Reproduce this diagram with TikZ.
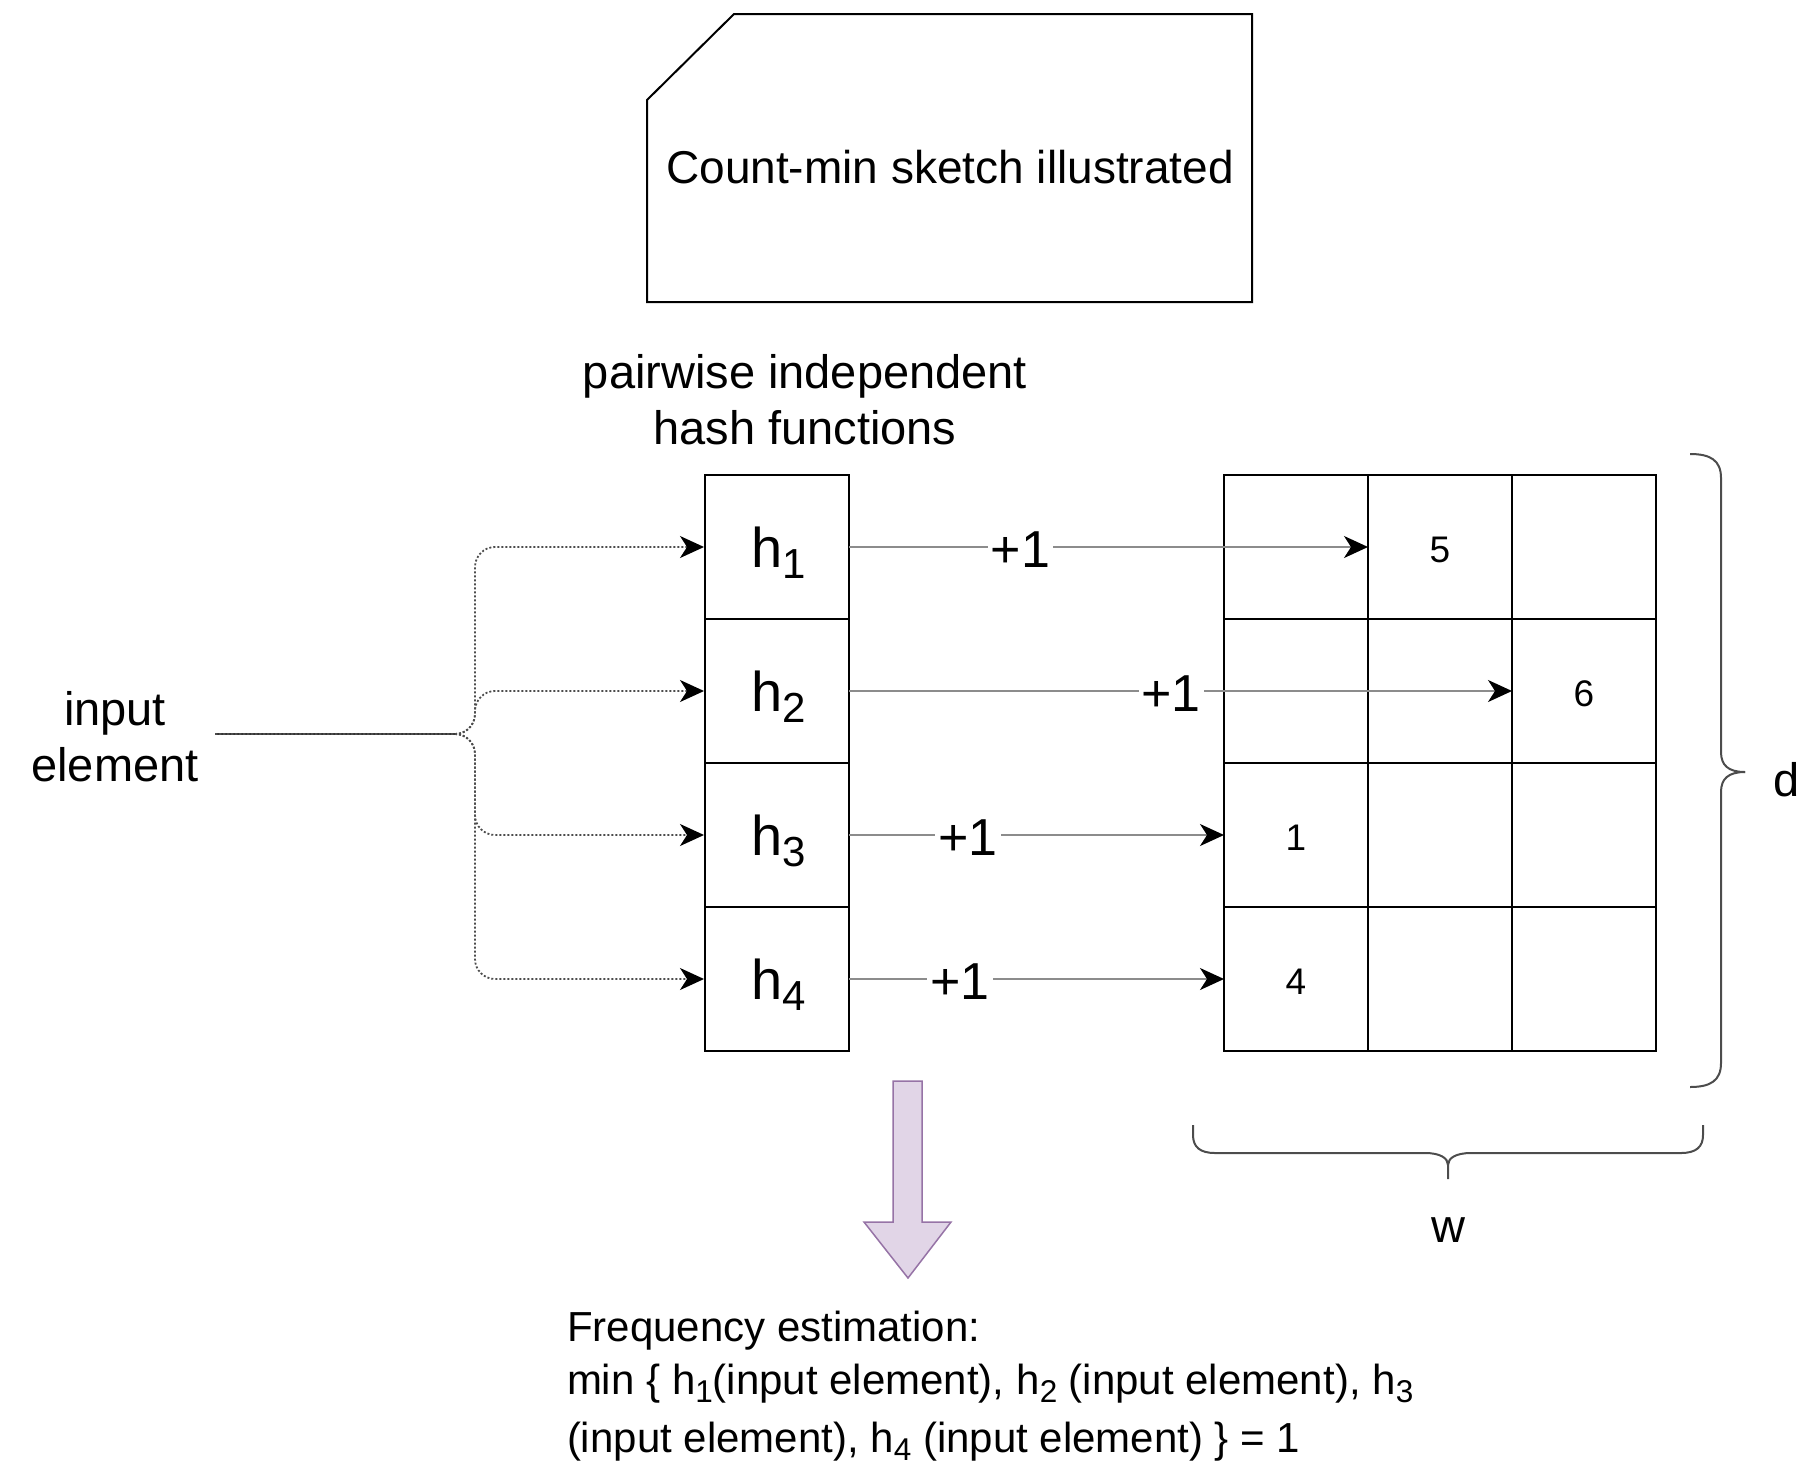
\documentclass[tikz,border=0pt]{standalone}
\usepackage{fontspec}
\setmainfont{Liberation Sans}
\usepackage{graphicx}
\usetikzlibrary{arrows.meta}

% lowered, smaller index for the hash function names
\newcommand{\hsub}[1]{\raisebox{-0.2em}{\scalebox{0.75}{#1}}}

\definecolor{lilac}{HTML}{E1D5E7}
\definecolor{lilacline}{HTML}{9673A6}

\tikzset{
  every node/.style={inner sep=0pt, outer sep=0pt},
  frame/.style={draw=black, line width=2pt},
  hbox/.style={frame, minimum width=144pt, minimum height=144pt,
    font=\fontsize{56}{60}\selectfont},
  cell/.style={frame, minimum width=144pt, minimum height=144pt},
  num/.style={font=\fontsize{37}{40}\selectfont},
  lbl/.style={font=\fontsize{47}{56}\selectfont, align=center},
  est/.style={font=\fontsize{42}{50}\selectfont, anchor=base west},
  tipend/.style={-{Stealth[length=24pt,width=22pt,inset=7pt,black]}},
  feed/.style={tipend, draw=black!70, line width=1.8pt,
    dash pattern=on 2pt off 2pt, rounded corners=20pt},
  inc/.style={tipend, draw=black!45, line width=2pt},
  plus/.style={fill=white, inner sep=3pt, font=\fontsize{52}{56}\selectfont, yshift=-3pt},
  brace/.style={draw=black!70, line width=2pt},
}

\begin{document}
\begin{tikzpicture}[x=1pt,y=-1pt]
\useasboundingbox (0,0) rectangle (1803,1467);

% title card with a clipped corner
\node[minimum width=605pt, minimum height=288pt] (title) at (949.5,158) {};
\draw[frame] ([yshift=-86pt]title.north west) -- ([xshift=87pt]title.north west)
  -- (title.north east) -- (title.south east) -- (title.south west) -- cycle;
\node[font=\fontsize{46}{54}\selectfont] (titletext) at (950,167) {Count-min sketch illustrated};

% hash functions
\node[lbl] (hashlbl) at (805,400) {pairwise independent\\hash functions};
\foreach \i/\y in {1/547,2/691,3/835,4/979}
  \node[hbox, text depth=0pt] (h\i) at (777,\y) {\hspace{3pt}h\hsub{\i}};

% counter table, d rows by w columns
\foreach \r/\y in {1/547,2/691,3/835,4/979}
  \foreach \c/\x in {1/1296,2/1440,3/1584}
    \node[cell] (c\r\c) at (\x,\y) {};
\node[num] (n5) at ([yshift=-3pt]c12.center) {5};
\node[num] (n6) at ([yshift=-3pt]c23.center) {6};
\node[num] (n1) at ([yshift=-3pt]c31.center) {1};
\node[num] (n4) at ([yshift=-3pt]c41.center) {4};

% input fan-out
\node[lbl, minimum width=200pt] (inp) at (115,737) {input\\element};
\coordinate (split) at (475,734);
\draw[line width=2pt, black!80] (inp.east |- split) -- ([xshift=-20pt]split);
\foreach \i in {1,...,4}
  \draw[feed] (inp.east |- split) -- (split) |- ([xshift=-1pt]h\i.west);

% increments
\draw[inc] (h1.east) -- node[plus, pos=0.33] (p1) {+1} (c12.west);
\draw[inc] (h2.east) -- node[plus, pos=0.486] (p2) {+1} (c23.west);
\draw[inc] (h3.east) -- node[plus, pos=0.317] (p3) {+1} (c31.west);
\draw[inc] (h4.east) -- node[plus, pos=0.296] (p4) {+1} (c41.west);

% depth brace
\draw[brace] (1690,454) .. controls (1710,454) and (1721,460) .. (1721,478)
  -- (1721,752) .. controls (1721,765) and (1728,772) .. (1745,772);
\draw[brace] (1745,772) .. controls (1728,772) and (1721,779) .. (1721,792)
  -- (1721,1063) .. controls (1721,1081) and (1710,1087) .. (1690,1087);
\node[lbl] (dlbl) at (1787,780) {d};

% width brace
\draw[brace] (1193,1125) -- (1193,1135) .. controls (1193,1147) and (1200,1153) .. (1215,1153)
  -- (1425,1153) .. controls (1440,1153) and (1448,1158) .. (1448,1165) -- (1448,1179);
\draw[brace] (1703,1125) -- (1703,1135) .. controls (1703,1147) and (1696,1153) .. (1681,1153)
  -- (1471,1153) .. controls (1456,1153) and (1448,1158) .. (1448,1165);
\node[lbl] (wlbl) at (1448,1230) {w};

% query arrow
\draw[fill=lilac, draw=lilacline, line width=1.5pt]
  (893,1081) -- (922,1081) -- (922,1222) -- (951,1222) -- (908,1278)
  -- (864,1222) -- (893,1222) -- cycle;

% estimate
\node[est] (est1) at (567,1341) {Frequency estimation:};
\node[est] (est2) at (567,1394) {min \{ h\hsub{1}(input element), h\hsub{2} (input element), h\hsub{3}};
\node[est] (est3) at (567,1452) {(input element), h\hsub{4} (input element) \} = 1};
\end{tikzpicture}
\end{document}
